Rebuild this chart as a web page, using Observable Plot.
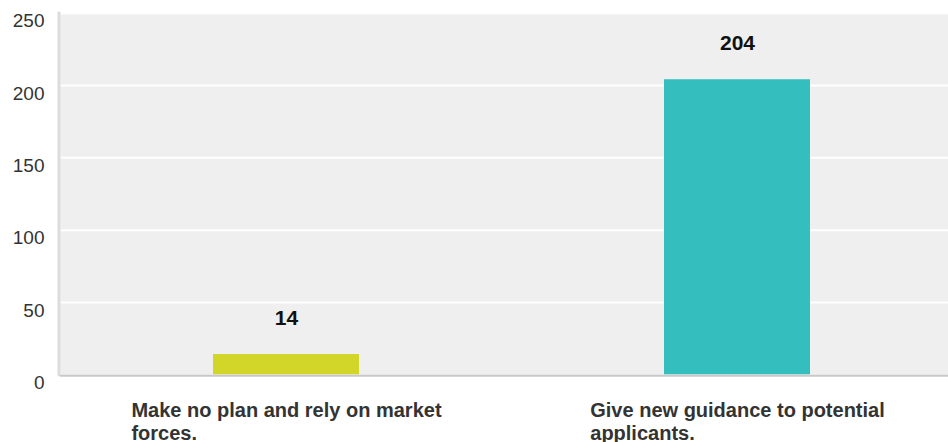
<!DOCTYPE html>
<html><head><meta charset="utf-8">
<script src="https://cdn.jsdelivr.net/npm/d3@7"></script>
<script src="https://cdn.jsdelivr.net/npm/@observablehq/plot@0.6"></script>
<style>body{margin:0;background:#fff}</style>
</head><body><div id="chart"></div>
<script>
const categories = ["Make no plan and rely on market forces.", "Give new guidance to potential applicants."];
const values = [14, 204];
const colors = ["#d1d628", "#34bebe"];
const yTicks = [0, 50, 100, 150, 200, 250];

const data = categories.map((c, i) => ({category: c, value: values[i], color: colors[i]}));
const FONT = '"Liberation Sans", Arial, Helvetica, sans-serif';
const labelSize = 20;
const ctx = document.createElement("canvas").getContext("2d");
ctx.font = `bold ${labelSize}px ${FONT}`;
function wrap(text, maxW) {
  const words = text.split(" ");
  const lines = [];
  let cur = "";
  for (const w of words) {
    const t = cur ? cur + " " + w : w;
    if (cur && ctx.measureText(t).width > maxW) { lines.push(cur); cur = w; }
    else cur = t;
  }
  if (cur) lines.push(cur);
  return lines;
}

const xLabelMarks = data.map(d => {
  const lines = wrap(d.category, 350);
  const w = Math.max(...lines.map(l => ctx.measureText(l).width));
  return Plot.text([d], {
    x: "category", text: () => lines.join("\n"),
    frameAnchor: "bottom", textAnchor: "start", lineAnchor: "top",
    dx: -w / 2, dy: 26, lineHeight: 23 / labelSize,
    fontSize: labelSize, fontWeight: "bold", fill: "#333"
  });
});

const chart = Plot.plot({
  width: 948, height: 442,
  marginLeft: 60, marginRight: 0, marginTop: 12.7, marginBottom: 67.7,
  style: {fontFamily: FONT, background: "#fff"},
  x: {domain: categories, range: [60.5, 962.5], paddingInner: 0.676, paddingOuter: 0.338, axis: null},
  y: {domain: [0, 250], axis: null},
  marks: [
    Plot.frame({fill: "#efefef", stroke: "none"}),
    Plot.ruleY(yTicks.filter(t => t > 0), {stroke: "#fff", strokeWidth: 2}),
    Plot.frame({anchor: "left", stroke: "#dcdcdc", strokeWidth: 3, dx: -1.5}),
    Plot.barY(data, {x: "category", y: "value", fill: "color"}),
    Plot.ruleY([0], {stroke: "#c8c8c8", strokeWidth: 2, dy: 1}),
    Plot.axisY({ticks: yTicks, tickSize: 0, tickPadding: 16, fontSize: 19, fill: "#333", dy: 8, label: null, tickFormat: d => String(d)}),
    Plot.text(data, {x: "category", y: "value", text: d => String(d.value), dy: -36, fontSize: 21, fontWeight: "bold", fill: "#111"}),
    ...xLabelMarks
  ]
});
document.getElementById("chart").append(chart);
</script>
</body></html>
